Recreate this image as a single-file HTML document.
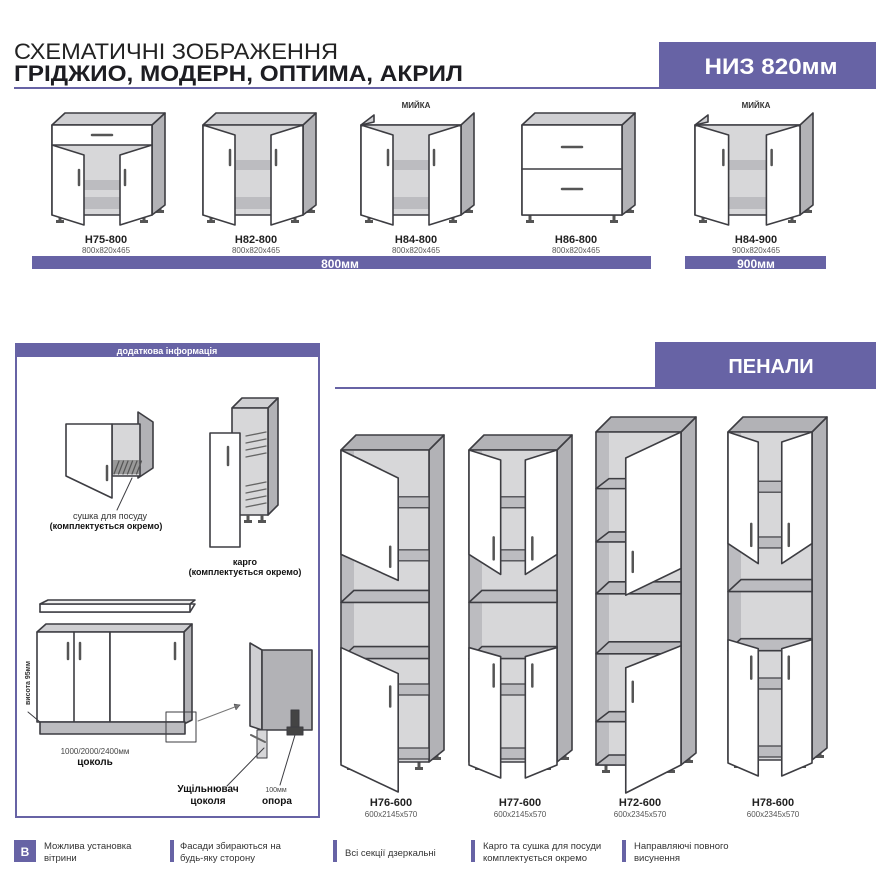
<!DOCTYPE html>
<html><head><meta charset="utf-8">
<style>
html,body{margin:0;padding:0;background:#fff;}
body{width:876px;height:884px;overflow:hidden;position:relative;font-family:"Liberation Sans",sans-serif;}
svg{position:absolute;left:0;top:0;}
text{font-family:"Liberation Sans",sans-serif;}
</style></head>
<body>
<svg id="s" width="876" height="884" viewBox="0 0 876 884" xmlns="http://www.w3.org/2000/svg">
<rect width="876" height="884" fill="#fff"/>
<!-- header -->
<text x="14" y="59" font-size="22" fill="#222" textLength="324" lengthAdjust="spacingAndGlyphs">СХЕМАТИЧНІ ЗОБРАЖЕННЯ</text>
<text x="14" y="81" font-size="22" font-weight="bold" fill="#1d1d22" textLength="449" lengthAdjust="spacingAndGlyphs">ГРІДЖИО, МОДЕРН, ОПТИМА, АКРИЛ</text>
<rect x="14" y="87" width="646" height="2" fill="#6763a5"/>
<rect x="659" y="42" width="217" height="47" fill="#6763a5"/>
<text x="771" y="74" font-size="22" font-weight="bold" fill="#fff" text-anchor="middle" textLength="133" lengthAdjust="spacingAndGlyphs">НИЗ 820мм</text>
<!-- bars -->
<rect x="32" y="256" width="619" height="13" fill="#6763a5"/>
<text x="340" y="268" font-size="12" font-weight="bold" fill="#fff" text-anchor="middle">800мм</text>
<rect x="685" y="256" width="141" height="13" fill="#6763a5"/>
<text x="756" y="268" font-size="12" font-weight="bold" fill="#fff" text-anchor="middle">900мм</text>
<text x="416" y="108" font-size="8" font-weight="bold" fill="#333" text-anchor="middle">МИЙКА</text>
<text x="756" y="108" font-size="8" font-weight="bold" fill="#333" text-anchor="middle">МИЙКА</text>
<g font-size="11" font-weight="bold" fill="#222" text-anchor="middle">
<text x="106" y="243">Н75-800</text><text x="256" y="243">Н82-800</text><text x="416" y="243">Н84-800</text><text x="576" y="243">Н86-800</text><text x="756" y="243">Н84-900</text>
</g>
<g font-size="8" fill="#555" text-anchor="middle">
<text x="106" y="253">800x820x465</text><text x="256" y="253">800x820x465</text><text x="416" y="253">800x820x465</text><text x="576" y="253">800x820x465</text><text x="756" y="253">900x820x465</text>
</g>
<!-- info box -->
<rect x="16" y="344" width="303" height="473" fill="none" stroke="#6763a5" stroke-width="2"/>
<rect x="16" y="344" width="303" height="13" fill="#6763a5"/>
<text x="167" y="354" font-size="9" font-weight="bold" fill="#fff" text-anchor="middle">додаткова інформація</text>
<g id="g"></g>
<text x="110" y="519" font-size="9" fill="#333" text-anchor="middle">сушка для посуду</text>
<text x="106" y="529" font-size="9" font-weight="bold" fill="#111" text-anchor="middle">(комплектується окремо)</text>
<text x="245" y="565" font-size="9" font-weight="bold" fill="#111" text-anchor="middle">карго</text>
<text x="245" y="575" font-size="9" font-weight="bold" fill="#111" text-anchor="middle">(комплектується окремо)</text>
<text x="30" y="705" font-size="7" font-weight="bold" fill="#333" transform="rotate(-90 30 705)">висота 95мм</text>
<text x="95" y="754" font-size="8" fill="#444" text-anchor="middle">1000/2000/2400мм</text>
<text x="95" y="765" font-size="10" font-weight="bold" fill="#111" text-anchor="middle">цоколь</text>
<text x="208" y="792" font-size="10" font-weight="bold" fill="#111" text-anchor="middle">Ущільнювач</text>
<text x="208" y="804" font-size="10" font-weight="bold" fill="#111" text-anchor="middle">цоколя</text>
<text x="276" y="792" font-size="7" fill="#444" text-anchor="middle">100мм</text>
<text x="277" y="804" font-size="10" font-weight="bold" fill="#111" text-anchor="middle">опора</text>
<!-- penaly -->
<rect x="655" y="342" width="221" height="46" fill="#6763a5"/>
<text x="771" y="373" font-size="20" font-weight="bold" fill="#fff" text-anchor="middle">ПЕНАЛИ</text>
<rect x="335" y="387" width="541" height="2" fill="#6763a5"/>
<g font-size="11" font-weight="bold" fill="#222" text-anchor="middle">
<text x="391" y="806">Н76-600</text><text x="520" y="806">Н77-600</text><text x="640" y="806">Н72-600</text><text x="773" y="806">Н78-600</text>
</g>
<g font-size="8" fill="#555" text-anchor="middle">
<text x="391" y="817">600x2145x570</text><text x="520" y="817">600x2145x570</text><text x="640" y="817">600x2345x570</text><text x="773" y="817">600x2345x570</text>
</g>
<!-- legend -->
<rect x="14" y="840" width="22" height="22" fill="#6763a5"/>
<text x="25" y="856" font-size="12" font-weight="bold" fill="#fff" text-anchor="middle">B</text>
<g font-size="9.5" fill="#333">
<text x="44" y="849">Можлива установка</text><text x="44" y="861">вітрини</text>
<rect x="170" y="840" width="4" height="22" fill="#6763a5"/>
<text x="180" y="849">Фасади збираються на</text><text x="180" y="861">будь-яку сторону</text>
<rect x="333" y="840" width="4" height="22" fill="#6763a5"/>
<text x="345" y="856">Всі секції дзеркальні</text>
<rect x="471" y="840" width="4" height="22" fill="#6763a5"/>
<text x="483" y="849">Карго та сушка для посуди</text><text x="483" y="861">комплектується окремо</text>
<rect x="622" y="840" width="4" height="22" fill="#6763a5"/>
<text x="634" y="849">Направляючі повного</text><text x="634" y="861">висунення</text>
</g>
</svg>
<script>
var O="#3d3d42",IN="#d7d7d9",SH="#bcbcc0",SD="#b2b2b6",W="#fff";
var g=document.getElementById('g'),h='';
function P(pts,f,sw){h+='<polygon points="'+pts.map(function(p){return p.join(',')}).join(' ')+'" fill="'+f+'" stroke="'+O+'" stroke-width="'+(sw||1.6)+'" stroke-linejoin="round"/>';}
function R(x,y,w,hh,f,sw){P([[x,y],[x+w,y],[x+w,y+hh],[x,y+hh]],f,sw);}
function L(x1,y1,x2,y2,c,sw){h+='<line x1="'+x1+'" y1="'+y1+'" x2="'+x2+'" y2="'+y2+'" stroke="'+(c||O)+'" stroke-width="'+(sw||1.6)+'" stroke-linecap="round"/>';}
function hd(x,y,l){L(x,y,x,y+l,"#555",2.5);}
function leg(x,y){h+='<rect x="'+(x-1.5)+'" y="'+y+'" width="3" height="6" fill="#555"/><rect x="'+(x-4)+'" y="'+(y+5)+'" width="8" height="3" fill="#555"/>';}
function base(x,w,t){
 var yt=125,yb=215,d=13,xr=x+w;
 leg(x+8,yb);leg(xr-8,yb);leg(xr+8,yb-10);
 P([[xr,yt],[xr+d,yt-12],[xr+d,yb-10],[xr,yb]],SD);
 if(t!='sink')P([[x,yt],[x+d,yt-12],[xr+d,yt-12],[xr,yt]],"#cfcfd2");
 else{P([[x,yt],[x+d,yt-10],[x+d,yt-3]],"#cfcfd2");L(x,yt,xr,yt);}
 R(x,yt,w,yb-yt,IN);
 if(t=='drawers'){R(x,yt,w,yb-yt,W);L(x,yt+44,xr,yt+44);L(x+w/2-10,yt+22,x+w/2+10,yt+22,"#555",2.5);L(x+w/2-10,yt+64,x+w/2+10,yt+64,"#555",2.5);return;}
 var a=x+w*0.32,b=xr-w*0.32,top=yt;
 if(t=='drawer'){R(x,yt,w,20,W);L(x+w/2-10,yt+10,x+w/2+10,yt+10,"#555",2.5);top=yt+20;}
 h+='<rect x="'+a+'" y="'+(top+35)+'" width="'+(b-a)+'" height="10" fill="'+SH+'"/>';
 h+='<rect x="'+a+'" y="'+(yb-18)+'" width="'+(b-a)+'" height="12" fill="'+SH+'"/>';
 P([[x,top],[a,top+10],[a,yb+10],[x,yb]],W);
 P([[xr,top],[b,top+10],[b,yb+10],[xr,yb]],W);
 hd(x+w*0.27,top+25,15);hd(xr-w*0.27,top+25,15);
}
base(52,100,'drawer');base(203,100,'doors');base(361,100,'sink');base(522,100,'drawers');base(695,105,'sink');
function tall(x,w,ft,fb,t){
 var d=15,xr=x+w;
 leg(x+10,fb);leg(xr-10,fb);leg(xr+8,fb-10);
 P([[xr,ft],[xr+d,ft-15],[xr+d,fb-12],[xr,fb]],SD);
 P([[x,ft],[x+d,ft-15],[xr+d,ft-15],[xr,ft]],SD);
 R(x,ft,w,fb-ft,IN);
 var H=fb-ft,m1=ft+H*0.45,m2=ft+H*0.63;
 h+='<rect x="'+(x+1)+'" y="'+(ft+1)+'" width="12" height="'+(H-2)+'" fill="'+SH+'"/>';
 [m1,m2].forEach(function(y){P([[x,y+12],[x+13,y],[xr,y],[xr,y+12]],SH);});
 if(t=='open'){
  [ft+H*0.14,ft+H*0.30,ft+H*0.84,ft+H*0.97].forEach(function(y){P([[x,y+10],[x+13,y],[x+30,y],[x+30,y+10]],SH);});
  var a=x+w*0.35;
  P([[xr,ft],[a,ft+26],[a,ft+H*0.49],[xr,ft+H*0.41]],W);
  P([[xr,m2+4],[a,m2+26],[a,fb+28],[xr,fb]],W);
  hd(a+7,ft+H*0.36,20);hd(a+7,m2+40,20);return;
 }
 var sh=[ft+H*0.15,ft+H*0.32,m2+H*0.12,fb-14];
 if(t=='single'){
  var a=x+w*0.65;
  sh.forEach(function(y){h+='<rect x="'+a+'" y="'+y+'" width="'+(xr-a)+'" height="11" fill="'+SH+'" stroke="'+O+'" stroke-width="1.2"/>';});
  P([[x,ft],[a,ft+28],[a,m1-10],[x,m1-36]],W);
  P([[x,m2+1],[a,m2+27],[a,fb+30],[x,fb+3]],W);
  hd(a-8,ft+H*0.31,20);hd(a-8,m2+40,20);return;
 }
 var a=x+w*0.36,b=xr-w*0.36;
 sh.forEach(function(y){h+='<rect x="'+a+'" y="'+y+'" width="'+(b-a)+'" height="11" fill="'+SH+'" stroke="'+O+'" stroke-width="1.2"/>';});
 P([[x,ft],[a,ft+10],[a,m1-16],[x,m1-36]],W);
 P([[xr,ft],[b,ft+10],[b,m1-16],[xr,m1-36]],W);
 P([[x,m2+1],[a,m2+10],[a,fb+16],[x,fb+3]],W);
 P([[xr,m2+1],[b,m2+10],[b,fb+16],[xr,fb+3]],W);
 hd(a-7,ft+H*0.28,22);hd(b+7,ft+H*0.28,22);hd(a-7,m2+18,22);hd(b+7,m2+18,22);
}
tall(341,88,450,762,'single');tall(469,88,450,762,'double');tall(596,85,432,765,'open');tall(728,84,432,760,'double');
P([[138,412],[153,422],[153,468],[138,478]],SD);
R(112,424,28,52,IN);
h+='<rect x="113" y="460" width="26" height="14" fill="#999"/>';
for(var i=0;i<6;i++)L(114+i*4.5,474,119+i*4.5,461,"#555",1.2);
P([[66,424],[112,424],[112,498],[66,476]],W);
hd(107,466,14);
L(132,478,117,510,O,1);
P([[232,408],[242,398],[278,398],[268,408]],"#cfcfd2");
P([[268,408],[278,398],[278,505],[268,515]],SD);
R(232,408,36,107,IN);
for(var k=0;k<2;k++){var yy=436+k*50;for(var j=0;j<4;j++)L(246,yy+j*7,266,yy+j*7-4,"#666",1.3);}
leg(248,515);leg(262,515);
P([[210,433],[240,433],[240,547],[210,547]],W);hd(228,447,18);
P([[40,612],[48,604],[195,604],[190,612]],W);R(40,604,150,8,W);P([[40,604],[48,600],[195,600],[190,604]],"#eee");
P([[37,632],[46,624],[192,624],[184,632]],"#cfcfd2");
P([[184,632],[192,624],[192,720],[184,724]],SD);
R(37,632,73,90,W);R(110,632,74,90,W);L(74,632,74,722);
hd(68,643,16);hd(80,643,16);hd(175,643,16);
R(40,722,145,12,SH);
R(166,712,30,30,"none",1);
L(198,721,240,705,"#777",1);P([[240,705],[234,704],[236,710]],"#777",0.5);
L(28,712,40,722,O,1);
P([[250,643],[262,650],[262,730],[250,726]],"#cfcfd2");
R(262,650,50,80,SD);
R(257,730,10,28,IN,1);R(291,710,8,22,"#444",1);R(287,727,16,8,"#444",1);
L(251,735,265,742,"#666",2);
L(264,748,227,786,O,1);L(295,735,280,785,O,1);
g.innerHTML=h;
</script>
</body></html>
